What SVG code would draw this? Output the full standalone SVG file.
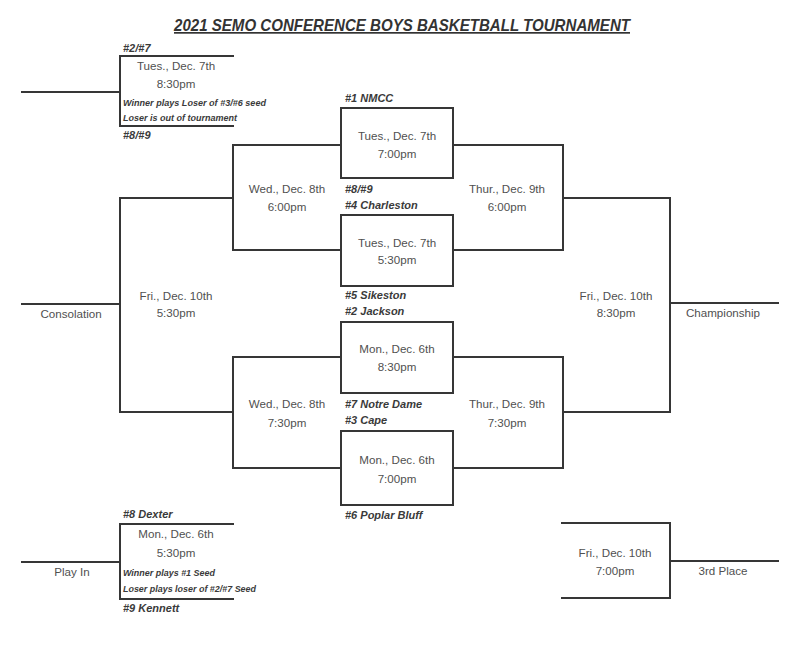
<svg xmlns="http://www.w3.org/2000/svg" width="800" height="653" viewBox="0 0 800 653">
<style>
.ln{fill:none;stroke:#363636;stroke-width:2;stroke-linecap:square}
.t{font-family:"Liberation Sans",Arial,sans-serif;font-size:11.6px;fill:#505050;text-anchor:middle}
.s{font-family:"Liberation Sans",Arial,sans-serif;font-size:11px;font-weight:bold;font-style:italic;fill:#3a3a3a}
.n{font-family:"Liberation Sans",Arial,sans-serif;font-size:8.5px;font-weight:bold;font-style:italic;fill:#3a3a3a}
.title{font-family:"Liberation Sans",Arial,sans-serif;font-size:17px;font-weight:bold;font-style:italic;fill:#333;text-decoration:underline}
</style>
<rect width="800" height="653" fill="#fff"/>
<text class="title" x="174" y="31" textLength="456" lengthAdjust="spacingAndGlyphs">2021 SEMO CONFERENCE BOYS BASKETBALL TOURNAMENT</text>

<g id="connectors">
<path class="ln" d="M22,92H120"/>
<path class="ln" d="M22,304H120"/>
<path class="ln" d="M670,303H778"/>
<path class="ln" d="M22,562H120"/>
<path class="ln" d="M670,561H778"/>
</g>

<g id="game-2-7-vs-8-9">
<path class="ln" d="M233,56H120V126H233"/>
<text class="s" x="123" y="52">#2/#7</text>
<text class="t" x="176" y="70">Tues., Dec. 7th</text>
<text class="t" x="176" y="88">8:30pm</text>
<text class="n" x="123" y="106" textLength="143" lengthAdjust="spacingAndGlyphs">Winner plays Loser of #3/#6 seed</text>
<text class="n" x="123" y="121" textLength="114" lengthAdjust="spacingAndGlyphs">Loser is out of tournament</text>
<text class="s" x="123" y="139">#8/#9</text>
</g>

<g id="game-1-vs-8-9">
<rect class="ln" x="341" y="108" width="112" height="70"/>
<text class="s" x="345" y="102">#1 NMCC</text>
<text class="t" x="397" y="140">Tues., Dec. 7th</text>
<text class="t" x="397" y="158">7:00pm</text>
<text class="s" x="345" y="193">#8/#9</text>
</g>

<g id="game-4-vs-5">
<rect class="ln" x="341" y="215" width="112" height="71"/>
<text class="s" x="345" y="209">#4 Charleston</text>
<text class="t" x="397" y="247">Tues., Dec. 7th</text>
<text class="t" x="397" y="264">5:30pm</text>
<text class="s" x="345" y="299">#5 Sikeston</text>
</g>

<g id="game-2-vs-7">
<rect class="ln" x="341" y="322" width="112" height="71"/>
<text class="s" x="345" y="315">#2 Jackson</text>
<text class="t" x="397" y="353">Mon., Dec. 6th</text>
<text class="t" x="397" y="371">8:30pm</text>
<text class="s" x="345" y="408">#7 Notre Dame</text>
</g>

<g id="game-3-vs-6">
<rect class="ln" x="341" y="431" width="112" height="74"/>
<text class="s" x="345" y="424">#3 Cape</text>
<text class="t" x="397" y="464">Mon., Dec. 6th</text>
<text class="t" x="397" y="483">7:00pm</text>
<text class="s" x="345" y="519">#6 Poplar Bluff</text>
</g>

<g id="consolation-semi-1">
<path class="ln" d="M341,145H233V250H341"/>
<text class="t" x="287" y="193">Wed., Dec. 8th</text>
<text class="t" x="287" y="211">6:00pm</text>
</g>

<g id="consolation-semi-2">
<path class="ln" d="M341,357H233V468H341"/>
<text class="t" x="287" y="408">Wed., Dec. 8th</text>
<text class="t" x="287" y="427">7:30pm</text>
</g>

<g id="semi-1">
<path class="ln" d="M453,145H563V250H453"/>
<text class="t" x="507" y="193">Thur., Dec. 9th</text>
<text class="t" x="507" y="211">6:00pm</text>
</g>

<g id="semi-2">
<path class="ln" d="M453,357H563V468H453"/>
<text class="t" x="507" y="408">Thur., Dec. 9th</text>
<text class="t" x="507" y="427">7:30pm</text>
</g>

<g id="consolation">
<path class="ln" d="M233,198H120V412H233"/>
<text class="t" x="176" y="300">Fri., Dec. 10th</text>
<text class="t" x="176" y="317">5:30pm</text>
<text class="t" x="71" y="318">Consolation</text>
</g>

<g id="championship">
<path class="ln" d="M563,198H670V412H563"/>
<text class="t" x="616" y="300">Fri., Dec. 10th</text>
<text class="t" x="616" y="317">8:30pm</text>
<text class="t" x="723" y="317">Championship</text>
</g>

<g id="play-in">
<path class="ln" d="M233,524H120V599H233"/>
<text class="s" x="123" y="518">#8 Dexter</text>
<text class="t" x="176" y="538">Mon., Dec. 6th</text>
<text class="t" x="176" y="557">5:30pm</text>
<text class="n" x="123" y="576" textLength="92" lengthAdjust="spacingAndGlyphs">Winner plays #1 Seed</text>
<text class="n" x="123" y="592" textLength="133" lengthAdjust="spacingAndGlyphs">Loser plays loser of #2/#7 Seed</text>
<text class="s" x="123" y="612">#9 Kennett</text>
<text class="t" x="72" y="576">Play In</text>
</g>

<g id="third-place">
<path class="ln" d="M562,523H670V598H562"/>
<text class="t" x="615" y="557">Fri., Dec. 10th</text>
<text class="t" x="615" y="575">7:00pm</text>
<text class="t" x="723" y="575">3rd Place</text>
</g>
</svg>
